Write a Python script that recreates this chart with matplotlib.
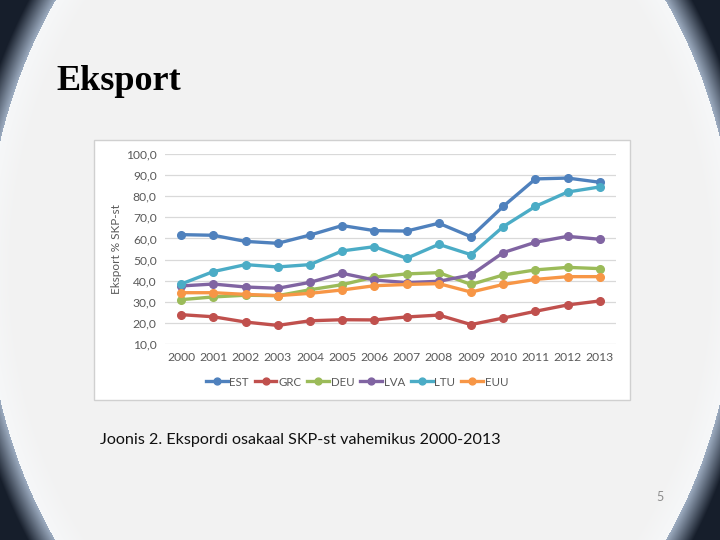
import numpy as np
import matplotlib.pyplot as plt
from matplotlib.patches import Rectangle
from matplotlib.ticker import FuncFormatter

years = [str(y) for y in range(2000, 2014)]
est = [61.8, 61.5, 58.6, 57.7, 61.6, 66.1, 63.7, 63.5, 67.2, 60.8, 75.2, 88.2, 88.6, 86.6]
grc = [23.9, 22.9, 20.4, 18.8, 21.0, 21.5, 21.4, 22.8, 23.7, 19.2, 22.3, 25.5, 28.5, 30.4]
deu = [31.0, 32.3, 33.1, 32.9, 35.7, 38.1, 41.7, 43.2, 43.8, 38.2, 42.7, 45.1, 46.3, 45.7]
lva = [37.5, 38.4, 37.0, 36.4, 39.2, 43.5, 40.3, 39.1, 39.7, 42.7, 53.3, 58.2, 61.0, 59.6]
ltu = [38.4, 44.3, 47.6, 46.5, 47.6, 54.1, 56.1, 50.6, 57.2, 52.3, 65.6, 75.2, 82.0, 84.4]
euu = [34.3, 34.3, 33.5, 32.9, 34.0, 35.6, 37.6, 38.2, 38.6, 34.6, 38.2, 40.6, 41.9, 41.9]

series = [("EST", est, "#4F81BD"), ("GRC", grc, "#C0504D"), ("DEU", deu, "#9BBB59"),
          ("LVA", lva, "#8064A2"), ("LTU", ltu, "#4BACC6"), ("EUU", euu, "#F79646")]

W, H = 720, 540
fig = plt.figure(figsize=(7.2, 5.4), dpi=100)

# slide background: light ellipse with dark corners
bg = fig.add_axes([0, 0, 1, 1])
yy, xx = np.mgrid[0:H, 0:W]
d = np.sqrt(((xx - 360) / 375.0) ** 2 + ((yy - 270) / 464.0) ** 2)
light = np.array([0.95, 0.95, 0.95])
edge = np.array([0.62, 0.68, 0.76])
dark = np.array([0.09, 0.12, 0.17])
t = np.clip((d - 1) / 0.06, 0, 1)[..., None]
img = np.where((d < 1)[..., None], light, edge * (1 - t) + dark * t)
glow = np.clip((d - 0.93) / 0.07, 0, 1)[..., None] * (d < 1)[..., None]
img = img * (1 - glow * 0.5) + np.array([0.98, 0.99, 1.0]) * glow * 0.5
bg.imshow(img, extent=[0, W, H, 0], aspect="auto")
bg.set_xlim(0, W)
bg.set_ylim(H, 0)
bg.axis("off")

bg.text(56, 81, "Eksport", fontsize=26, fontweight="bold", family="Liberation Serif",
        va="center", ha="left")
bg.text(100, 440, "Joonis 2. Ekspordi osakaal SKP-st vahemikus 2000-2013", fontsize=11.6,
        family="Lato", va="center", ha="left", color="#111111")
bg.text(660, 497, "5", fontsize=9, family="Lato", color="#8c8c8c", va="center", ha="center")

# chart panel
bg.add_patch(Rectangle((94, 140), 536, 260, facecolor="white", edgecolor="#d0d0d0", lw=1))

ax = fig.add_axes([165 / W, (H - 344) / H, (616 - 165) / W, (344 - 154) / H])
ax.set_facecolor("none")
x = np.arange(len(years))
for name, vals, col in series:
    ax.plot(x, vals, color=col, lw=2.4, marker="o", ms=5.5, label=name)

ax.set_xlim(-0.5, len(years) - 0.5)
ax.set_ylim(10, 100)
ax.set_yticks(np.arange(10, 101, 10))
ax.yaxis.set_major_formatter(FuncFormatter(lambda v, p: f"{v:.1f}".replace(".", ",")))
ax.set_xticks(x)
ax.set_xticklabels(years)
ax.grid(axis="y", color="#d9d9d9", lw=0.9)
ax.set_axisbelow(True)
for s in ax.spines.values():
    s.set_visible(False)
ax.tick_params(length=0, labelsize=8.7, labelcolor="#595959", pad=6)
for lab in ax.get_xticklabels() + ax.get_yticklabels():
    lab.set_family("Lato")
ax.set_ylabel("Eksport % SKP-st", fontsize=8.5, color="#595959", family="Lato", labelpad=3)

leg = fig.legend(loc="center", bbox_to_anchor=(357 / W, (H - 382) / H), ncol=6, frameon=False,
                 prop={"family": "Lato", "size": 8.3}, handlelength=1.9, columnspacing=0.5,
                 handletextpad=0.15, markerscale=0.9)
for txt in leg.get_texts():
    txt.set_color("#595959")

fig.savefig("out.png", dpi=100)
